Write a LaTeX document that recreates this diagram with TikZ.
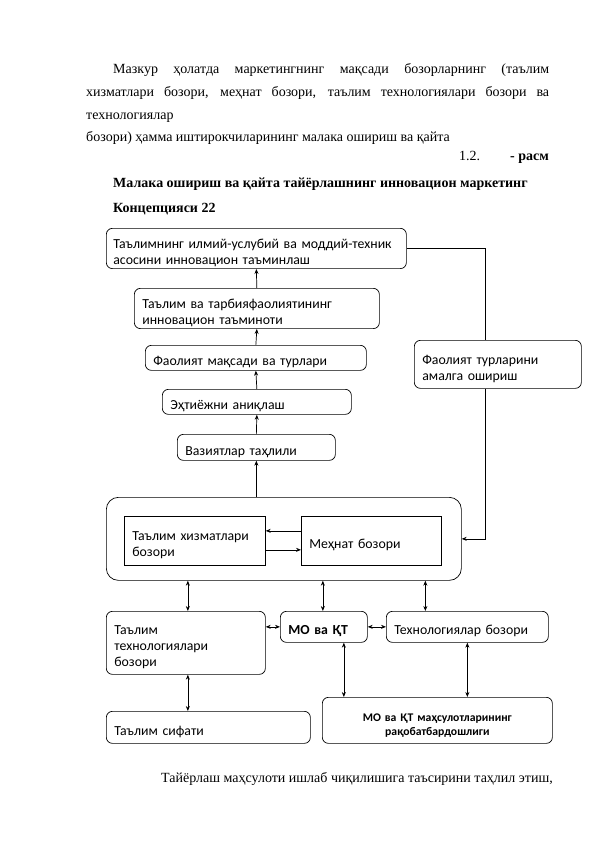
\documentclass[tikz,border=0pt]{standalone}
\usepackage{fontspec}
\setmainfont{Liberation Serif}
\newfontfamily\dg{Carlito}
\usetikzlibrary{arrows.meta}
\begin{document}
\begin{tikzpicture}[x=1pt,y=-1pt,
  body/.style={anchor=base west,inner sep=0pt,font=\fontsize{14}{16}\selectfont},
  box/.style={draw,line width=0.7pt,rounded corners=6pt,anchor=north west,
    font=\dg\fontsize{13.8}{16}\selectfont,align=left,inner xsep=8pt,inner ysep=2pt,
    execute at begin node={\rule{0pt}{18pt}}},
  sq/.style={box,rounded corners=0pt},
  arr/.style={line width=0.7pt,-{Stealth[length=5pt,width=4pt]}},
  darr/.style={line width=0.7pt,{Stealth[length=5pt,width=4pt]}-{Stealth[length=5pt,width=4pt]}},
  ln/.style={line width=0.7pt}
]
\useasboundingbox (0,0) rectangle (595,842);
% body text
\node[body] (p1) at (113,74) {\makebox[436pt][s]{Мазкур ҳолатда маркетингнинг мақсади бозорларнинг (таълим}};
\node[body] (p2) at (86,97) {\makebox[463pt][s]{хизматлари бозори, меҳнат бозори, таълим технологиялари бозори ва}};
\node[body] (p3) at (86,120) {технологиялар};
\node[body] (p4) at (86,142) {бозори) ҳамма иштирокчиларининг малака ошириш ва қайта};
\node[body] (p5) at (459,161) {1.2.};
\node[body,anchor=base east] (p6) at (549,161) {\textbf{- расм}};
\node[body] (p7) at (113,188) {\textbf{Малака ошириш ва қайта тайёрлашнинг инновацион маркетинг}};
\node[body] (p8) at (113,213) {\textbf{Концепцияси 22}};
\node[body] (p9) at (161,782) {Тайёрлаш маҳсулоти ишлаб чиқилишига таъсирини таҳлил этиш,};
% chain
\node[box,minimum height=40pt,text width=286pt,inner xsep=7pt] (b1) at (106,228) {Таълимнинг илмий-услубий ва моддий-техник\\асосини инновацион таъминлаш};
\node[box,minimum height=40pt,text width=229pt] (b2) at (134,288) {Таълим ва тарбияфаолиятининг\\инновацион таъминоти};
\node[box,minimum height=25pt,text width=205pt] (b3) at (145,345) {Фаолият мақсади ва турлари};
\node[box,minimum height=25pt,text width=173pt] (b4) at (162,389) {Эҳтиёжни аниқлаш};
\node[box,minimum height=26pt,text width=142pt] (b5) at (177,434) {Вазиятлар таҳлили};
\node[box,minimum height=48pt,text width=151pt] (r) at (414,340) {Фаолият турларини\\амалга ошириш};
% container
\node[box,rounded corners=12pt,minimum width=355pt,minimum height=83pt,execute at begin node={}] (cont) at (106,497) {};
\node[sq,minimum height=49pt,text width=125pt] (il) at (124,516) {Таълим хизматлари\\бозори};
\node[sq,minimum height=49pt,text width=124pt] (ir) at (301,516) {Меҳнат бозори};
% lower row
\node[box,minimum height=63pt,text width=143pt] (ttb) at (106,611) {Таълим\\технологиялари\\бозори};
\node[box,minimum height=31pt,text width=71pt] (mo) at (280,611) {\textbf{МО ва ҚТ}};
\node[box,minimum height=31pt,text width=146pt] (tb) at (386,611) {Технологиялар бозори};
\node[box,minimum height=32pt,text width=188pt] (ts) at (106,711) {Таълим сифати};
\node[box,minimum height=46pt,text width=214pt,align=center,font=\dg\fontsize{11.7}{14}\selectfont,execute at begin node={}] (mop) at (322,697) {\textbf{МО ва ҚТ маҳсулотларининг}\\\textbf{рақобатбардошлиги}};
% connectors
\draw[arr] (b2.north) -- (b1.south);
\draw[arr] (b3.north) -- (b2.south);
\draw[arr] (b4.north) -- (b3.south);
\draw[arr] (b5.north) -- (b4.south);
\draw[arr] (b5.south |- cont.north) -- (b5.south);
\coordinate (rx) at (485,0);
\draw[ln] (b1.east) -| (rx |- r.north);
\draw[arr] (rx |- r.south) |- (cont.east);
\draw[arr] ([yshift=10pt]ir.west) -- ([yshift=10pt]il.east);
\draw[arr] ([yshift=-9pt]il.east) -- ([yshift=-9pt]ir.west);
\draw[darr] ([xshift=2pt]ttb.north) -- ([xshift=2pt]ttb.north |- cont.south);
\draw[darr] ([xshift=-1pt]mo.north) -- ([xshift=-1pt]mo.north |- cont.south);
\draw[darr] ([xshift=-42pt]tb.north) -- ([xshift=-42pt]tb.north |- cont.south);
\draw[darr] (mo.west -| ttb.east) -- (mo.west);
\draw[darr] (mo.east) -- (tb.west);
\draw[darr] ([xshift=2pt]ttb.south) -- ([xshift=2pt]ttb.south |- ts.north);
\draw[darr] ([xshift=20pt]mo.south) -- ([xshift=20pt]mo.south |- mop.north);
\draw[darr] (tb.south) -- (tb.south |- mop.north);
\end{tikzpicture}
\end{document}
